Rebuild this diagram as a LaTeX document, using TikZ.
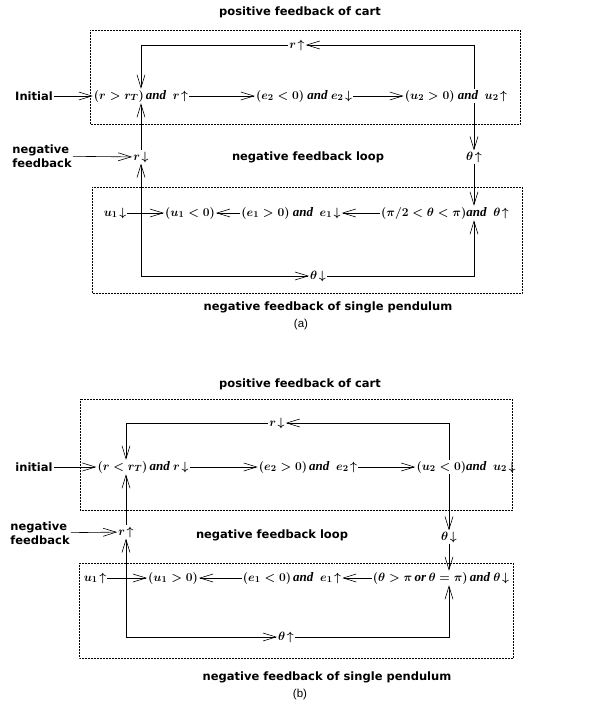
\documentclass[tikz,border=0pt]{standalone}
\usepackage{amsmath}
\usepackage{fontspec}
\setmainfont{Liberation Serif}
\setsansfont{Liberation Sans}
\newfontfamily\heavyfont{DejaVu Sans}
\usetikzlibrary{arrows.meta}

\begin{document}
\begin{tikzpicture}[
        x=1pt, y=-1pt,
        cond/.style={inner sep=1pt, font=\fontsize{13}{15}\selectfont\boldmath\bfseries},
        tag/.style={inner sep=1pt, align=left, font=\heavyfont\bfseries\fontsize{11.5}{14}\selectfont},
        caption/.style={inner sep=1pt, font=\sffamily\fontsize{11.5}{12}\selectfont},
        arrow/.style={line width=0.6pt, -{Straight Barb[length=13pt,width=8pt]}},
        region/.style={densely dotted, line width=0.5pt}
    ]
        \useasboundingbox (0,0) rectangle (590,713);

        % ---------- (a) ----------
        \node[tag] (topA) at (300,12) {positive feedback of cart};
        \draw[region] (90,30) rectangle (520,124);
        \draw[region] (92,187) rectangle (522,293);

        % cart loop
        \node[cond] (rupA) at (297,45) {$r\!\uparrow$};
        \node[tag] (initA) at (34,96) {Initial};
        \node[cond] (rrA) at (141,96) {$(r>r_T)$\,\textit{and}\ \ $r\!\uparrow$};
        \node[cond] (eA) at (304,96) {$(e_2<0)$\ \textit{and}\ $e_2\!\downarrow$};
        \node[cond] (uA) at (456,96) {$(u_2>0)$\ \textit{and}\ \ $u_2\!\uparrow$};

        % middle
        \node[cond] (thA) at (474,157) {$\theta\!\uparrow$};
        \node[cond] (rdA) at (141,157) {$r\!\downarrow$};
        \node[tag] (negA) at (42,156) {negative\\feedback};
        \node[tag] (loopA) at (308,157) {negative feedback loop};

        % pendulum loop
        \node[cond] (u1A) at (115,213) {$u_1\!\downarrow$};
        \node[cond] (nA) at (190,213) {$(u_1<0)$};
        \node[cond] (e1A) at (291,213) {$(e_1>0)$\ \textit{and}\ \ $e_1\!\downarrow$};
        \node[cond] (pA) at (445,213) {$(\pi/2<\theta<\pi)$\textit{and}\ \ $\theta\!\uparrow$};
        \node[cond] (thdA) at (318,276) {$\theta\!\downarrow$};

        \node[tag] (botA) at (328,307) {negative feedback of single pendulum};
        \node[caption] (capA) at (301,325) {(a)};

        % Connections
        \draw[arrow] (initA) -- (rrA);
        \draw[arrow] (rrA) -- (eA);
        \draw[arrow] (eA) -- (uA);
        \draw[arrow] (uA.north -| thA) |- (rupA);
        \draw[arrow] (rupA) -| (rrA);
        \draw[arrow] (uA.south -| thA) -- (thA);
        \draw[arrow] (thA) -- (pA.north -| thA);
        \draw[arrow] (pA) -- (e1A);
        \draw[arrow] (e1A) -- (nA);
        \draw[arrow] (u1A) -- (nA);
        \draw[arrow] (negA) -- (rdA);
        \draw[arrow] (rdA) -- (rrA);
        \draw[arrow] (u1A.east -| rdA) -- (rdA);
        \draw[arrow] (u1A.east -| rdA) |- (thdA);
        \draw[arrow] (thdA) -| (pA.south -| thA);

        % ---------- (b) ----------
        \node[tag] (topB) at (300,384) {positive feedback of cart};
        \draw[region] (80,399) rectangle (512,510);
        \draw[region] (79,563) rectangle (513,658);

        % cart loop
        \node[cond] (rdB) at (277,423) {$r\!\downarrow$};
        \node[tag] (initB) at (34,467) {initial};
        \node[cond] (rrB) at (143,467) {$(r<r_T)$\,\textit{and}\ $r\!\downarrow$};
        \node[cond] (eB) at (308,467) {$(e_2>0)$\,\textit{and}\ \ $e_2\!\uparrow$};
        \node[cond] (uB) at (466,467) {$(u_2<0)$\textit{and}\ \ $u_2\!\downarrow$};

        % middle
        \node[cond] (thB) at (449,537) {$\theta\!\downarrow$};
        \node[cond] (rupB) at (126,532) {$r\!\uparrow$};
        \node[tag] (negB) at (40,533) {negative\\feedback};
        \node[tag] (loopB) at (272,535) {negative feedback loop};

        % pendulum loop
        \node[cond] (u1B) at (95,578) {$u_1\!\uparrow$};
        \node[cond] (nB) at (173,578) {$(u_1>0)$};
        \node[cond] (e1B) at (292,578) {$(e_1<0)$\,\textit{and}\ \ $e_1\!\uparrow$};
        \node[cond] (pB) at (441,578) {$(\theta>\pi\,\textit{or}\,\theta=\pi)$\,\textit{and}\ $\theta\!\downarrow$};
        \node[cond] (thuB) at (286,637) {$\theta\!\uparrow$};

        \node[tag] (botB) at (327,677) {negative feedback of single pendulum};
        \node[caption] (capB) at (300,695) {(b)};

        % Connections
        \draw[arrow] (initB) -- (rrB);
        \draw[arrow] (rrB) -- (eB);
        \draw[arrow] (eB) -- (uB);
        \draw[arrow] (uB.north -| thB) |- (rdB);
        \draw[arrow] (rdB) -| (rrB.north -| rupB);
        \draw[arrow] (uB.south -| thB) -- (thB);
        \draw[arrow] (thB) -- (pB.north -| thB);
        \draw[arrow] (pB) -- (e1B);
        \draw[arrow] (e1B) -- (nB);
        \draw[arrow] (u1B) -- (nB);
        \draw[arrow] (negB) -- (rupB);
        \draw[arrow] (rupB) -- (rrB.south -| rupB);
        \draw[arrow] (u1B.east -| rupB) -- (rupB);
        \draw[arrow] (u1B.east -| rupB) |- (thuB);
        \draw[arrow] (thuB) -| (pB.south -| thB);
    \end{tikzpicture}
\end{document}
